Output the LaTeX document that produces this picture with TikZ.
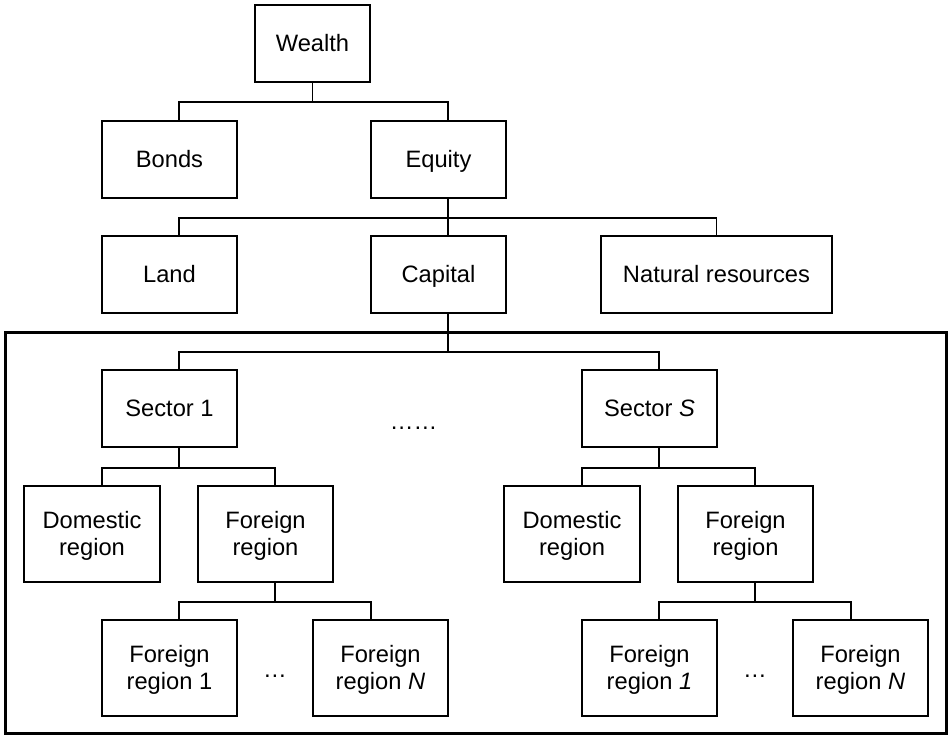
\documentclass[tikz,border=0pt]{standalone}
\usepackage{fontspec}
\setmainfont{Liberation Sans}
\begin{document}
\begin{tikzpicture}[x=1pt,y=-1pt,
  box/.style={draw,line width=1.9pt,inner sep=0pt,align=center,minimum height=77pt,minimum width=135pt,
    text height=17pt,text depth=2pt,font=\fontsize{23.7}{26.7}\selectfont},
  tall/.style={minimum height=96pt,text height=42.6pt,text depth=0pt},
  conn/.style={line width=1.6pt},
  frame/.style={line width=3pt},
  dots/.style={font=\fontsize{23.7}{27}\selectfont,inner sep=0pt,anchor=base}]
\useasboundingbox (0,0) rectangle (948,736);
% frame
\coordinate (ftl) at (5.5,332);
\coordinate (fbr) at (946.3,733);
\draw[frame] (ftl) rectangle (fbr);
% nodes
\node[box,minimum width=115pt] (wealth) at (312.5,43.5) {Wealth};
\node[box] (bonds) at (169.5,159.5) {Bonds};
\node[box] (equity) at (438.5,159.5) {Equity};
\node[box] (land) at (169.5,274.5) {Land};
\node[box] (capital) at (438.5,274.5) {Capital};
\node[box,minimum width=231pt] (natres) at (716.5,274.5) {Natural resources};
\node[box] (sec1) at (169.5,408.5) {Sector 1};
\node[box] (secS) at (649.5,408.5) {Sector \textit{S}};
\node[box,tall,minimum width=136pt] (dom1) at (92,534) {Domestic\\region};
\node[box,tall] (for1) at (265.5,534) {Foreign\\region};
\node[box,tall] (fr11) at (169.5,668) {Foreign\\region 1};
\node[box,tall] (fr1N) at (380.5,668) {Foreign\\region \textit{N}};
\node[box,tall,minimum width=136pt] (dom2) at (572,534) {Domestic\\region};
\node[box,tall] (for2) at (745.5,534) {Foreign\\region};
\node[box,tall] (fr21) at (649.5,668) {Foreign\\region \textit{1}};
\node[box,tall] (fr2N) at (860.5,668) {Foreign\\region \textit{N}};
\node[dots] (d0) at (413.5,429) {……};
\node[dots] (d1) at (275,677) {…};
\node[dots] (d2) at (755,677) {…};
% connectors
\draw[conn] (wealth.south) -- ++(0,19) -| ([xshift=9.5pt]bonds.north);
\draw[conn] (wealth.south) -- ++(0,19) -| ([xshift=9.5pt]equity.north);
\draw[conn] ([xshift=9.5pt]equity.south) -- ++(0,19) -| ([xshift=9.5pt]land.north);
\draw[conn] ([xshift=9.5pt]equity.south) -- ++(0,19) -| ([xshift=9.5pt]capital.north);
\draw[conn] ([xshift=9.5pt]equity.south) -- ++(0,19) -| (natres.north);
\draw[conn] ([xshift=9.5pt]capital.south) -- ++(0,38) -| ([xshift=9.5pt]sec1.north);
\draw[conn] ([xshift=9.5pt]capital.south) -- ++(0,38) -| ([xshift=9.5pt]secS.north);
\draw[conn] ([xshift=9.5pt]sec1.south) -- ++(0,20) -| ([xshift=10pt]dom1.north);
\draw[conn] ([xshift=9.5pt]sec1.south) -- ++(0,20) -| ([xshift=9.5pt]for1.north);
\draw[conn] ([xshift=9.5pt]for1.south) -- ++(0,19) -| ([xshift=9.5pt]fr11.north);
\draw[conn] ([xshift=9.5pt]for1.south) -- ++(0,19) -| ([xshift=-9.5pt]fr1N.north);
\draw[conn] ([xshift=9.5pt]secS.south) -- ++(0,20) -| ([xshift=10pt]dom2.north);
\draw[conn] ([xshift=9.5pt]secS.south) -- ++(0,20) -| ([xshift=9.5pt]for2.north);
\draw[conn] ([xshift=9.5pt]for2.south) -- ++(0,19) -| ([xshift=9.5pt]fr21.north);
\draw[conn] ([xshift=9.5pt]for2.south) -- ++(0,19) -| ([xshift=-9.5pt]fr2N.north);
\end{tikzpicture}
\end{document}
